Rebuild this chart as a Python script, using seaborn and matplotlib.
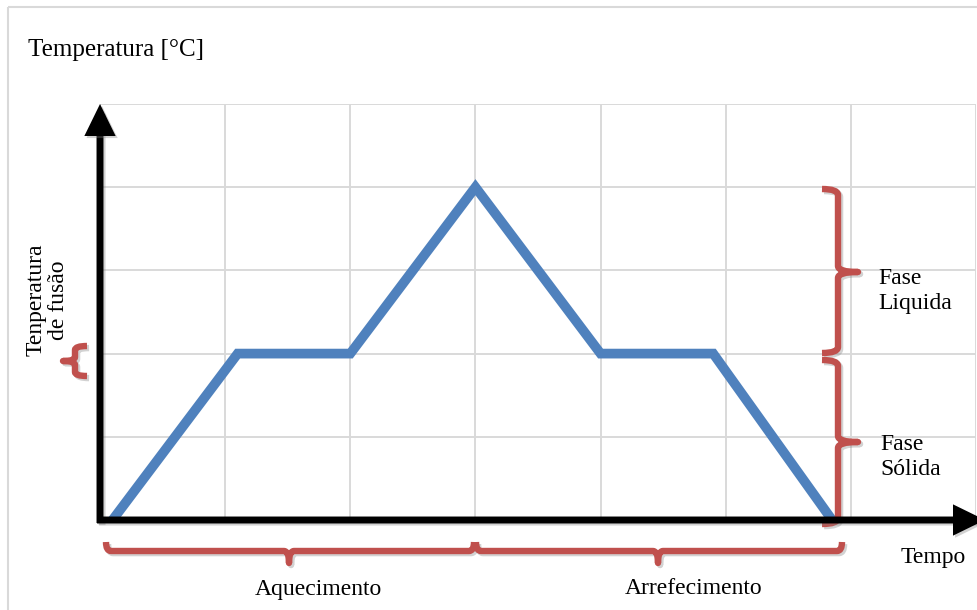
import numpy as np
import pandas as pd
import seaborn as sns
import matplotlib
matplotlib.use("Agg")
import matplotlib.pyplot as plt
from matplotlib.path import Path
from matplotlib.patches import PathPatch, Rectangle
import matplotlib.patheffects as pe

# ---- data ----
tempo = [0.1, 1.1, 2.0, 3.0, 4.0, 4.9, 5.85]
temperatura = [0, 2, 2, 4, 2, 2, 0]
x_grid = list(range(0, 8))
y_grid = list(range(0, 6))

title_text = "Temperatura [°C]"
fusao_text = "Tenperatura\nde fusão"
liquida_text = "Fase\nLiquida"
solida_text = "Fase\nSólida"
xlabel_text = "Tempo"
aquec_text = "Aquecimento"
arref_text = "Arrefecimento"

BLUE = "#4F81BD"
RED = "#C0504D"
GRID = "#D9D9D9"

sns.set_style("white")
plt.rcParams["font.family"] = ["Liberation Serif", "DejaVu Serif"]
plt.rcParams["text.color"] = "black"

W, H = 978, 610
fig = plt.figure(figsize=(W / 100, H / 100), dpi=100)

ax = fig.add_axes([100 / W, 90 / H, 876 / W, 416 / H])
df = pd.DataFrame({"Tempo": tempo, "Temperatura": temperatura})
sns.lineplot(data=df, x="Tempo", y="Temperatura", ax=ax, color=BLUE,
             linewidth=7, sort=False, estimator=None, zorder=3)
for l in ax.lines:
    l.set_solid_capstyle("butt")
    l.set_solid_joinstyle("miter")
ax.set_xlim(0, 7)
ax.set_ylim(0, 5)
ax.set_xticks(x_grid)
ax.set_yticks(y_grid)
ax.grid(True, color=GRID, linewidth=1.4)
ax.tick_params(length=0, labelbottom=False, labelleft=False)
ax.set_xlabel("")
ax.set_ylabel("")
for s in ax.spines.values():
    s.set_visible(False)

# ---- overlay in pixel coordinates ----
ov = fig.add_axes([0, 0, 1, 1], zorder=5)
ov.set_xlim(0, W)
ov.set_ylim(H, 0)
ov.axis("off")
ov.patch.set_alpha(0)

ov.add_patch(Rectangle((8, 7), 1100, 800, fill=False, edgecolor=GRID, lw=1.5))

shadow = [pe.SimpleLineShadow(offset=(1.5, -1.5), shadow_color="grey", alpha=0.35), pe.Normal()]

arrow_kw = dict(arrowstyle="-|>,head_length=0.45,head_width=0.22", lw=5, color="black",
                mutation_scale=33, shrinkA=0, shrinkB=0, capstyle="butt",
                joinstyle="miter", path_effects=shadow)
ov.annotate("", xy=(100, 104), xytext=(100, 523), arrowprops=arrow_kw, annotation_clip=False)
ov.annotate("", xy=(985, 520), xytext=(97, 520), arrowprops=arrow_kw, annotation_clip=False)


def brace(a, b, s, m, hook, tip, r, vertical=False):
    # a, b: ends along the brace; s: spine position; m: tip position along brace
    # hook: signed offset of the end hooks; tip: signed offset of the tip
    pts = [(a, s + hook), (a, s), (a + r, s), (m - r, s), (m, s), (m, s + tip),
           (m, s), (m + r, s), (b - r, s), (b, s), (b, s + hook)]
    codes = [Path.MOVETO, Path.CURVE3, Path.CURVE3, Path.LINETO, Path.CURVE3, Path.CURVE3,
             Path.CURVE3, Path.CURVE3, Path.LINETO, Path.CURVE3, Path.CURVE3]
    if vertical:
        pts = [(q, p) for p, q in pts]
    patch = PathPatch(Path(pts, codes), fill=False, edgecolor=RED, lw=4.6,
                      capstyle="butt", joinstyle="round")
    patch.set_path_effects(shadow)
    ov.add_patch(patch)


# bottom braces
brace(106, 474, 551, 289, -9, 12, 5)
brace(476, 842, 551, 658, -9, 12, 5)
# right braces
brace(189, 353, 838, 272, -16, 20, 6, vertical=True)
brace(360, 524, 838, 442, -16, 20, 6, vertical=True)
# left small brace
brace(346, 376, 75, 361, 12, -12, 4, vertical=True)

fs = 17
ov.text(28, 50, title_text, fontsize=18, ha="left", va="center")
ov.text(47, 300, fusao_text, fontsize=fs, ha="center", va="center", rotation=90,
        multialignment="center", linespacing=1.1)
ov.text(878, 291, liquida_text, fontsize=fs, ha="left", va="center", linespacing=1.2)
ov.text(880, 457, solida_text, fontsize=fs, ha="left", va="center", linespacing=1.2)
ov.text(933, 557, xlabel_text, fontsize=fs, ha="center", va="center")
ov.text(318, 590, aquec_text, fontsize=fs, ha="center", va="center")
ov.text(694, 588, arref_text, fontsize=fs, ha="center", va="center")

fig.savefig("out.png", dpi=100)
